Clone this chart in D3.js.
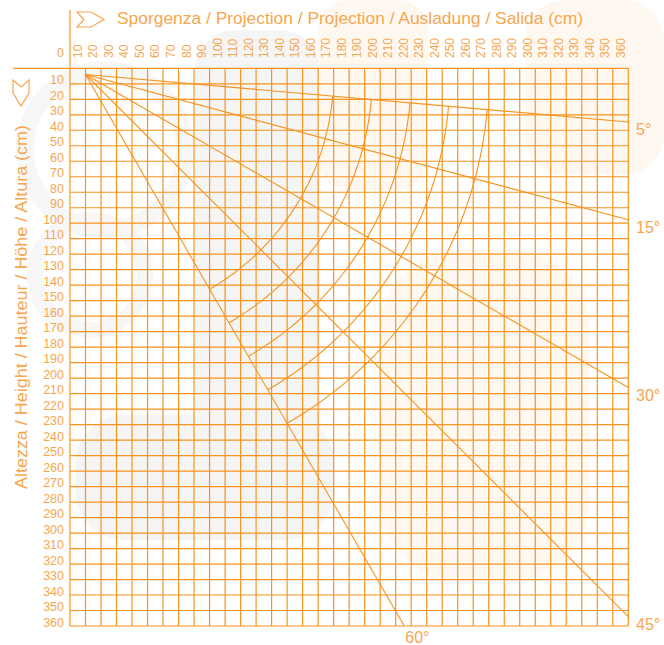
<!DOCTYPE html>
<html>
<head>
<meta charset="utf-8">
<script src="https://cdn.jsdelivr.net/npm/d3@7"></script>
<style>
  body { margin: 0; background: #fff; }
  svg { display: block; }
</style>
</head>
<body>
<div id="chart"></div>
<script>
// awning projection chart: grid in cm, inclination rays and arm-length arcs
var xTicks = d3.range(10, 370, 10);   // Sporgenza labels
var yTicks = d3.range(10, 370, 10);   // Altezza labels
var angles = [5, 15, 30, 45, 60];     // inclination in degrees
var armLengths = [160, 185, 210, 235, 260]; // arc radius in cm
var origin = [10, 4];                 // arm pivot (cm)

var width = 664, height = 645;
var gridColor = "#f7931e";
var textColor = "#f7a64e";

var svg = d3.select("#chart").append("svg")
    .attr("width", width)
    .attr("height", height);

var x = d3.scaleLinear().domain([0, 360]).range([70, 628.3]);
var y = d3.scaleLinear().domain([0, 360]).range([68.3, 626]);

// faint watermark in the background
var wm = svg.append("g");
wm.append("circle").attr("cx", 105).attr("cy", 150).attr("r", 80)
    .style("fill", "none").style("stroke", "#f7f7f7").style("stroke-width", 18);
wm.append("circle").attr("cx", 90).attr("cy", 275).attr("r", 55)
    .style("fill", "none").style("stroke", "#f7f7f7").style("stroke-width", 16);
wm.append("rect").attr("x", 195).attr("y", 30).attr("width", 125).attr("height", 440).attr("rx", 40)
    .style("fill", "#f5f5f5");
wm.append("rect").attr("x", 75).attr("y", 415).attr("width", 260).attr("height", 125).attr("rx", 50)
    .style("fill", "#f5f5f5");
wm.append("rect").attr("x", 318).attr("y", 0).attr("width", 110).attr("height", 190).attr("rx", 30)
    .style("fill", "#fff8f0");
wm.append("rect").attr("x", 525).attr("y", 0).attr("width", 139).attr("height", 175).attr("rx", 40)
    .style("fill", "#fff8f0");
wm.append("rect").attr("x", 380).attr("y", 250).attr("width", 210).attr("height", 330).attr("rx", 80)
    .style("fill", "#fff9f2");

// grid
var grid = svg.append("g")
    .style("stroke", gridColor)
    .style("stroke-width", "1.2px")
    .style("fill", "none");

grid.selectAll(".vline")
    .data([0].concat(xTicks))
    .enter().append("line")
    .attr("x1", function(d) { return x(d); })
    .attr("x2", function(d) { return x(d); })
    .attr("y1", function(d) { return d === 0 ? 10 : y(0); })
    .attr("y2", y(360));

grid.selectAll(".hline")
    .data([0].concat(yTicks))
    .enter().append("line")
    .attr("y1", function(d) { return y(d); })
    .attr("y2", function(d) { return y(d); })
    .attr("x1", function(d) { return d === 0 ? 13 : x(0); })
    .attr("x2", x(360));

// top tick labels (rotated, centred in their cell)
svg.selectAll(".xlab")
    .data(xTicks)
    .enter().append("text")
    .attr("transform", function(d) { return "translate(" + x(d - 5) + ",58) rotate(-90)"; })
    .attr("dy", "0.35em")
    .text(function(d) { return d; })
    .style("font-family", "Liberation Sans, Arial, sans-serif")
    .style("font-size", "12px")
    .style("fill", textColor);

// left tick labels (baseline on the line)
svg.selectAll(".ylab")
    .data(yTicks)
    .enter().append("text")
    .attr("x", 64)
    .attr("y", function(d) { return y(d) + 0.5; })
    .attr("text-anchor", "end")
    .text(function(d) { return d; })
    .style("font-family", "Liberation Sans, Arial, sans-serif")
    .style("font-size", "12.5px")
    .style("fill", textColor);

svg.append("text")
    .attr("x", 64)
    .attr("y", 57)
    .attr("text-anchor", "end")
    .text("0")
    .style("font-family", "Liberation Sans, Arial, sans-serif")
    .style("font-size", "12.5px")
    .style("fill", textColor);

// axis titles
svg.append("text")
    .attr("x", 117)
    .attr("y", 24)
    .attr("textLength", 466)
    .attr("lengthAdjust", "spacingAndGlyphs")
    .text("Sporgenza / Projection / Projection / Ausladung / Salida (cm)")
    .style("font-family", "Liberation Sans, Arial, sans-serif")
    .style("font-size", "17px")
    .style("fill", textColor);

svg.append("text")
    .attr("transform", "translate(27,489) rotate(-90)")
    .attr("textLength", 364)
    .attr("lengthAdjust", "spacingAndGlyphs")
    .text("Altezza / Height / Hauteur / Höhe / Altura (cm)")
    .style("font-family", "Liberation Sans, Arial, sans-serif")
    .style("font-size", "17px")
    .style("fill", textColor);

// arrows
svg.append("polygon")
    .attr("points", "77,12 91,12 104,19.5 91,27 77,27 84,19.5")
    .style("fill", "none").style("stroke", textColor).style("stroke-width", "1.2px");
svg.append("polygon")
    .attr("points", "13,80 13,93 21,106 29,93 29,80 21,87")
    .style("fill", "none").style("stroke", textColor).style("stroke-width", "1.2px");

// rays from the pivot, clipped to the grid
function rayEnd(a) {
    var t = Math.tan(a * Math.PI / 180);
    var ex = 360, ey = origin[1] + (360 - origin[0]) * t;
    if (ey > 360) { ey = 360; ex = origin[0] + (360 - origin[1]) / t; }
    return [ex, ey];
}

var marks = svg.append("g")
    .style("stroke", gridColor)
    .style("stroke-width", "1.1px")
    .style("fill", "none");

marks.selectAll(".ray")
    .data(angles)
    .enter().append("line")
    .attr("x1", x(origin[0]))
    .attr("y1", y(origin[1]))
    .attr("x2", function(d) { return x(rayEnd(d)[0]); })
    .attr("y2", function(d) { return y(rayEnd(d)[1]); });

// arm-length arcs between the 5° and 60° rays
var line = d3.line()
    .x(function(p) { return x(p[0]); })
    .y(function(p) { return y(p[1]); });

marks.selectAll(".arc")
    .data(armLengths)
    .enter().append("path")
    .attr("d", function(r) {
        var pts = d3.range(angles[0], angles[angles.length - 1] + 0.5, 1).map(function(a) {
            var rad = a * Math.PI / 180;
            return [origin[0] + r * Math.cos(rad), origin[1] + r * Math.sin(rad)];
        });
        return line(pts);
    });

// angle labels
svg.selectAll(".alab")
    .data(angles)
    .enter().append("text")
    .attr("x", function(d) { return d === 60 ? x(rayEnd(d)[0]) + 1 : 636; })
    .attr("y", function(d) { return d === 60 ? 643 : y(rayEnd(d)[1]) + 13; })
    .text(function(d) { return d + "°"; })
    .style("font-family", "Liberation Sans, Arial, sans-serif")
    .style("font-size", "16px")
    .style("fill", textColor);
</script>
</body>
</html>
